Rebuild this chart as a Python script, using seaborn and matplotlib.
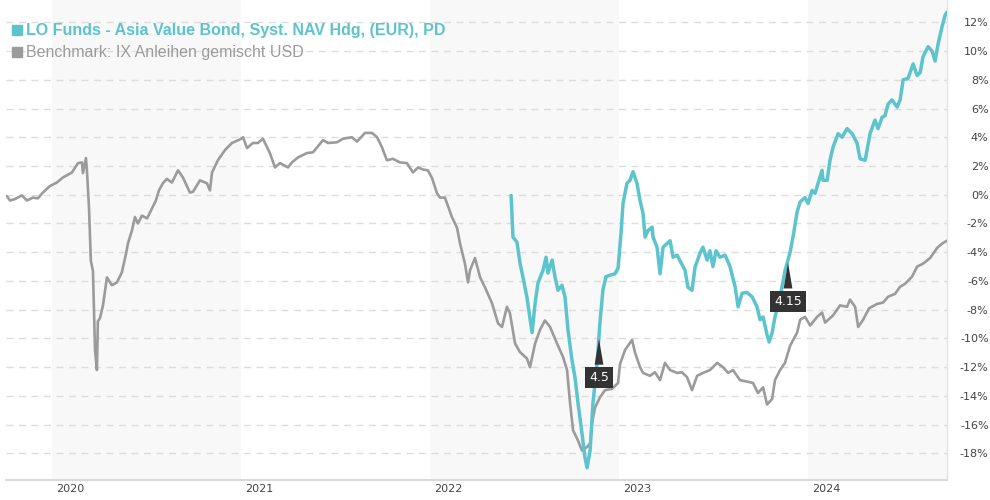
#!/usr/bin/env python3
# -*- coding: utf-8 -*-
"""
Wertentwicklung LO Funds - Asia Value Bond gegen Benchmark (in %).
Die Werte sind aus dem Originalchart abgelesen (x = Jahr als Dezimalzahl).
"""

import numpy as np
import matplotlib.pyplot as plt
from matplotlib.lines import Line2D
import seaborn as sns

# Benchmark: IX Anleihen gemischt USD
benchmark_jahr = [
    2019.762, 2019.778, 2019.804, 2019.841, 2019.868, 2019.899, 2019.926, 2019.952, 2019.989,
    2020.026, 2020.058, 2020.106, 2020.138, 2020.159, 2020.164, 2020.180, 2020.185, 2020.196,
    2020.206, 2020.217, 2020.228, 2020.238, 2020.243, 2020.254, 2020.270, 2020.291, 2020.317,
    2020.344, 2020.370, 2020.392, 2020.402, 2020.423, 2020.439, 2020.455, 2020.476, 2020.503,
    2020.529, 2020.550, 2020.566, 2020.587, 2020.608, 2020.635, 2020.667, 2020.693, 2020.730,
    2020.746, 2020.783, 2020.820, 2020.836, 2020.847, 2020.878, 2020.915, 2020.952, 2020.995,
    2021.011, 2021.032, 2021.063, 2021.090, 2021.116, 2021.153, 2021.180, 2021.206, 2021.249,
    2021.270, 2021.302, 2021.349, 2021.381, 2021.434, 2021.460, 2021.508, 2021.540, 2021.587,
    2021.614, 2021.656, 2021.693, 2021.720, 2021.746, 2021.772, 2021.804, 2021.841, 2021.878,
    2021.910, 2021.937, 2021.963, 2021.989, 2022.011, 2022.037, 2022.053, 2022.079, 2022.116,
    2022.143, 2022.159, 2022.185, 2022.201, 2022.212, 2022.238, 2022.265, 2022.291, 2022.328,
    2022.360, 2022.381, 2022.407, 2022.423, 2022.450, 2022.476, 2022.513, 2022.529, 2022.556,
    2022.582, 2022.608, 2022.635, 2022.672, 2022.704, 2022.725, 2022.741, 2022.757, 2022.783,
    2022.804, 2022.831, 2022.847, 2022.857, 2022.873, 2022.899, 2022.926, 2022.963, 2022.995,
    2023.005, 2023.032, 2023.069, 2023.085, 2023.111, 2023.127, 2023.164, 2023.190, 2023.217,
    2023.243, 2023.270, 2023.307, 2023.333, 2023.360, 2023.386, 2023.413, 2023.444, 2023.481,
    2023.519, 2023.550, 2023.577, 2023.603, 2023.640, 2023.677, 2023.709, 2023.735, 2023.762,
    2023.783, 2023.810, 2023.825, 2023.852, 2023.878, 2023.905, 2023.942, 2023.958, 2023.984,
    2024.011, 2024.048, 2024.074, 2024.090, 2024.132, 2024.169, 2024.206, 2024.222, 2024.249,
    2024.265, 2024.291, 2024.323, 2024.365, 2024.397, 2024.423, 2024.460, 2024.487, 2024.513,
    2024.550, 2024.577, 2024.608, 2024.646, 2024.683, 2024.709, 2024.735,
]
benchmark_wert = [
    -0.1, -0.4, -0.3, -0.05, -0.4, -0.2, -0.25, 0.15, 0.6,
    0.85, 1.2, 1.55, 2.2, 2.25, 1.5, 2.55, 1.7, -0.9,
    -4.6, -5.3, -10.85, -12.2, -8.8, -8.6, -7.7, -5.75, -6.3,
    -6.1, -5.4, -4.1, -3.4, -2.5, -1.55, -2.0, -1.45, -1.65,
    -0.95, -0.4, 0.3, 0.8, 1.1, 0.85, 1.7, 1.2, 0.15,
    0.2, 1.0, 0.8, 0.3, 1.55, 2.4, 3.1, 3.6, 3.85,
    4.0, 3.25, 3.6, 3.6, 3.9, 2.9, 1.9, 2.2, 1.9,
    2.25, 2.6, 2.9, 2.95, 3.8, 3.6, 3.65, 3.9, 4.0,
    3.7, 4.3, 4.3, 4.0, 3.3, 2.4, 2.5, 2.25, 2.2,
    1.55, 1.9, 1.75, 1.7, 1.15, 0.1, -0.2, -0.2, -1.55,
    -2.3, -3.4, -4.8, -6.1, -5.25, -4.4, -5.75, -6.45, -7.55,
    -8.95, -9.2, -7.8, -8.25, -10.35, -10.95, -11.4, -12.0, -10.35,
    -9.4, -8.75, -9.2, -10.35, -11.3, -12.2, -14.5, -16.4, -17.1,
    -17.8, -17.55, -17.3, -15.9, -14.8, -14.1, -13.6, -13.5, -13.1,
    -11.8, -10.8, -10.1, -11.0, -12.0, -12.4, -12.6, -12.35, -12.9,
    -11.7, -12.2, -12.4, -12.35, -12.7, -13.6, -12.6, -12.4, -12.2,
    -11.7, -12.0, -12.4, -12.2, -12.9, -13.0, -13.1, -13.8, -13.4,
    -14.6, -14.2, -12.9, -12.2, -11.7, -10.5, -9.6, -8.7, -8.5,
    -9.1, -8.5, -8.2, -8.9, -8.4, -7.7, -7.8, -7.3, -7.8,
    -9.2, -8.7, -7.9, -7.6, -7.5, -7.1, -6.9, -6.4, -6.2,
    -5.7, -5.0, -4.8, -4.4, -3.7, -3.4, -3.2,
]

# LO Funds - Asia Value Bond, Syst. NAV Hdg, (EUR), PD
fonds_jahr = [
    2022.429, 2022.439, 2022.460, 2022.476, 2022.492, 2022.513, 2022.540, 2022.556, 2022.571,
    2022.598, 2022.614, 2022.624, 2022.646, 2022.661, 2022.677, 2022.698, 2022.714, 2022.730,
    2022.751, 2022.767, 2022.783, 2022.804, 2022.820, 2022.831, 2022.847, 2022.862, 2022.884,
    2022.899, 2022.915, 2022.931, 2022.952, 2022.979, 2022.995, 2023.011, 2023.021, 2023.042,
    2023.058, 2023.074, 2023.095, 2023.111, 2023.127, 2023.138, 2023.153, 2023.175, 2023.180,
    2023.201, 2023.217, 2023.233, 2023.270, 2023.286, 2023.307, 2023.323, 2023.349, 2023.365,
    2023.386, 2023.402, 2023.429, 2023.444, 2023.466, 2023.481, 2023.497, 2023.513, 2023.534,
    2023.561, 2023.587, 2023.614, 2023.630, 2023.651, 2023.677, 2023.704, 2023.730, 2023.746,
    2023.762, 2023.783, 2023.794, 2023.810, 2023.825, 2023.852, 2023.878, 2023.905, 2023.921,
    2023.942, 2023.958, 2023.984, 2024.000, 2024.021, 2024.037, 2024.053, 2024.074, 2024.079,
    2024.101, 2024.116, 2024.132, 2024.159, 2024.180, 2024.206, 2024.233, 2024.259, 2024.275,
    2024.302, 2024.328, 2024.354, 2024.370, 2024.392, 2024.407, 2024.423, 2024.444, 2024.471,
    2024.487, 2024.503, 2024.529, 2024.556, 2024.577, 2024.593, 2024.608, 2024.635, 2024.656,
    2024.672, 2024.688, 2024.709, 2024.725, 2024.735,
]
fonds_wert = [
    -0.05, -2.95, -3.3, -4.75, -5.75, -7.15, -9.6, -7.55, -6.15,
    -5.25, -4.35, -5.45, -4.55, -5.7, -6.65, -6.3, -7.1, -9.4,
    -11.5, -12.7, -14.5, -16.6, -18.3, -19.0, -17.8, -14.5, -11.7,
    -8.9, -6.6, -5.7, -5.6, -5.5, -5.1, -2.6, -0.6, 0.8,
    1.0, 1.6, 0.8, -0.4, -1.3, -2.95, -2.5, -2.25, -2.95,
    -3.65, -5.5, -3.65, -3.2, -4.35, -4.2, -4.6, -5.25, -6.45,
    -6.65, -5.05, -4.05, -3.65, -4.55, -3.9, -5.0, -3.9, -4.35,
    -4.2, -5.0, -6.4, -7.8, -6.85, -6.8, -7.1, -7.8, -8.7,
    -8.5, -9.75, -10.25, -9.6, -8.5, -7.1, -5.3, -4.0, -2.9,
    -1.2, -0.5, -0.2, -0.6, 0.3, 0.1, 0.8, 1.7, 1.0,
    1.0, 2.4, 3.3, 4.25, 4.0, 4.6, 4.25, 3.6, 2.5,
    2.4, 4.25, 5.2, 4.6, 5.4, 5.5, 6.3, 6.6, 6.1,
    6.6, 8.0, 8.1, 9.1, 8.3, 8.5, 9.6, 10.3, 10.0,
    9.3, 10.5, 11.7, 12.5, 12.7,
]

# Ausschuettungen (Marker am Fonds-Verlauf)
ausschuettung_jahr = [2022.894, 2023.894]
ausschuettung_text = ['4.5', '4.15']

jahre = [2020, 2021, 2022, 2023, 2024]
y_ticks = list(range(-18, 13, 2))

fonds_name = 'LO Funds - Asia Value Bond, Syst. NAV Hdg, (EUR), PD'
benchmark_name = 'Benchmark: IX Anleihen gemischt USD'

FARBE_FONDS = '#5cc4cc'
FARBE_BENCH = '#9b9b9b'


def zeichne_chart():
    sns.set_style('white')
    plt.rcParams['font.family'] = ['DejaVu Sans']

    fig = plt.figure(figsize=(9.9, 5), dpi=100)
    ax = fig.add_axes([6 / 990, 20 / 500, 941 / 990, 480 / 500])

    # 1. Jahresbaender im Hintergrund (jedes zweite Jahr)
    for j in jahre[::2]:
        ax.axvspan(j, j + 1, color='#f8f8f8', lw=0, zorder=0)

    # 2. Linien
    sns.lineplot(x=benchmark_jahr, y=benchmark_wert, color=FARBE_BENCH, lw=1.9,
                 sort=False, estimator=None, ax=ax, zorder=3)
    sns.lineplot(x=fonds_jahr, y=fonds_wert, color=FARBE_FONDS, lw=2.5,
                 sort=False, estimator=None, ax=ax, zorder=4)

    # 3. Ausschuettungs-Marker
    for jahr, txt in zip(ausschuettung_jahr, ausschuettung_text):
        y = np.interp(jahr, fonds_jahr, fonds_wert)
        ax.annotate(txt, xy=(jahr, y), xytext=(0, -30), textcoords='offset points',
                    ha='center', va='center', color='white', fontsize=9,
                    bbox=dict(boxstyle='square,pad=0.3', fc='#333333', ec='none'),
                    arrowprops=dict(arrowstyle='wedge,tail_width=0.7,shrink_factor=0.5',
                                    fc='#333333', ec='none'),
                    zorder=6)

    # 4. Achsen
    ax.set_xlim(2019.757, 2024.735)
    ax.set_ylim(-19.85, 13.55)
    ax.set_yticks(y_ticks)
    ax.set_yticklabels([f'{v}%' for v in y_ticks])
    ax.yaxis.tick_right()
    ax.tick_params(axis='y', length=0, pad=30, labelsize=8, labelcolor='#444444')
    for lab in ax.get_yticklabels():
        lab.set_horizontalalignment('right')
    ax.set_xticks([j + 0.095 for j in jahre])
    ax.set_xticklabels([str(j) for j in jahre])
    ax.tick_params(axis='x', length=0, pad=3, labelsize=8, labelcolor='#444444')
    ax.set_xlabel('')
    ax.set_ylabel('')

    ax.yaxis.grid(True, linestyle=(0, (5, 4)), color='#dddddd', lw=1)
    ax.xaxis.grid(False)
    ax.set_axisbelow(True)
    for s in ['left', 'top']:
        ax.spines[s].set_visible(False)
    ax.spines['bottom'].set_color('#d6d6d6')
    ax.spines['bottom'].set_linewidth(1.3)
    ax.spines['right'].set_color('#e4e4e4')
    ax.spines['right'].set_linewidth(1)

    # 5. Legende oben links
    schrift = ['Liberation Sans', 'DejaVu Sans']
    for i, (name, farbe, gewicht) in enumerate([(fonds_name, FARBE_FONDS, 'bold'),
                                                 (benchmark_name, FARBE_BENCH, 'normal')]):
        y = 1 - (30 + 22 * i) / 500
        fig.add_artist(Line2D([17 / 990], [y], marker='s', ms=7.5, color=farbe,
                              lw=0, transform=fig.transFigure))
        fig.text(26 / 990, y, name, color=farbe, fontsize=11.5, fontweight=gewicht,
                 family=schrift, va='center', ha='left')

    fig.savefig('out.png', dpi=100)


if __name__ == '__main__':
    zeichne_chart()
